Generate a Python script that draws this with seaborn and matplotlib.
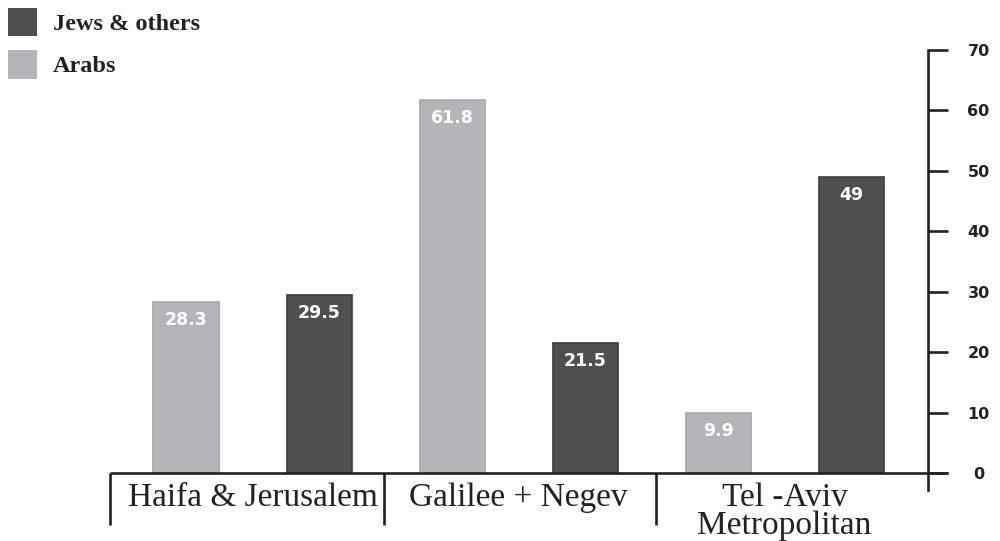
import matplotlib
matplotlib.use("Agg")
import matplotlib.pyplot as plt
import matplotlib.patches as mpatches
import pandas as pd
import seaborn as sns

# Population share (%) by region and group
regions = ["Haifa & Jerusalem", "Galilee + Negev", "Tel -Aviv\nMetropolitan"]
arabs = [28.3, 61.8, 9.9]
jews_others = [29.5, 21.5, 49]
groups = ["Arabs", "Jews & others"]
y_ticks = [0, 10, 20, 30, 40, 50, 60, 70]

LIGHT = "#b4b5b8"
DARK = "#4f4f4f"
INK = "#222222"

df = pd.DataFrame({
    "region": regions * 2,
    "group": [groups[0]] * 3 + [groups[1]] * 3,
    "share": arabs + jews_others,
})

sns.set_theme(style="white")
plt.rcParams["font.family"] = ["DejaVu Sans"]

fig = plt.figure(figsize=(10, 5.41), dpi=100)
ax = fig.add_axes([0.110, 0.1257, 0.818, 0.7819])

sns.barplot(data=df, x="region", y="share", hue="group", hue_order=groups,
            palette=[LIGHT, DARK], width=1.0, gap=0.51, saturation=1,
            legend=False, ax=ax, edgecolor="none")

# soften bar edges with a slightly darker outline, value label inside the top
for container, edge in zip(ax.containers, ["#a6a7aa", "#3c3c3c"]):
    for bar in container:
        bar.set_edgecolor(edge)
        bar.set_linewidth(1.2)
        h = bar.get_height()
        ax.annotate(f"{h:g}", (bar.get_x() + bar.get_width() / 2, h),
                    xytext=(0, -6.5), textcoords="offset points",
                    ha="center", va="top", color="white",
                    fontweight="bold", fontsize=12.5)

ax.set_xlim(-0.536, 2.539)
ax.set_ylim(0, 70)
ax.set_xlabel("")
ax.set_ylabel("")

# right-hand value axis
for side in ["left", "top", "bottom"]:
    ax.spines[side].set_visible(False)
ax.spines["right"].set_visible(True)
ax.spines["right"].set_color(INK)
ax.spines["right"].set_linewidth(1.9)
ax.spines["right"].set_bounds(-2.8, 70)

ax.yaxis.tick_right()
ax.set_yticks(y_ticks)
ax.tick_params(axis="y", which="both", right=True, left=False, length=14.4,
               width=1.9, color=INK, direction="out", pad=22,
               labelsize=11.5, labelcolor=INK)
for lab in ax.get_yticklabels():
    lab.set_fontweight("bold")
    lab.set_horizontalalignment("center")

# region labels under the baseline
ax.tick_params(axis="x", length=0, pad=7, labelsize=24, labelcolor=INK)
for lab in ax.get_xticklabels():
    lab.set_fontfamily("Liberation Serif")
    lab.set_linespacing(0.87)

# baseline and dividers between regions
ax.plot([0, 1.0245], [0, 0], transform=ax.transAxes, color=INK, lw=1.9,
        clip_on=False, solid_capstyle="butt")
for xa in [0.0, 0.335, 0.667]:
    ax.plot([xa, xa], [0, -0.123], transform=ax.transAxes, color=INK, lw=1.9,
            clip_on=False, solid_capstyle="butt")

# legend
handles = [mpatches.Patch(facecolor=DARK, edgecolor="none", label=groups[1]),
           mpatches.Patch(facecolor=LIGHT, edgecolor="none", label=groups[0])]
leg = fig.legend(handles=handles, loc="upper left", bbox_to_anchor=(0.008, 0.986),
                 frameon=False, prop={"family": "Liberation Serif", "weight": "bold", "size": 17.5},
                 handlelength=1.2, handleheight=1.45, handletextpad=0.66,
                 labelspacing=0.55, borderpad=0, borderaxespad=0)
for t in leg.get_texts():
    t.set_color(INK)

fig.savefig("out.png", dpi=100, facecolor="white")
